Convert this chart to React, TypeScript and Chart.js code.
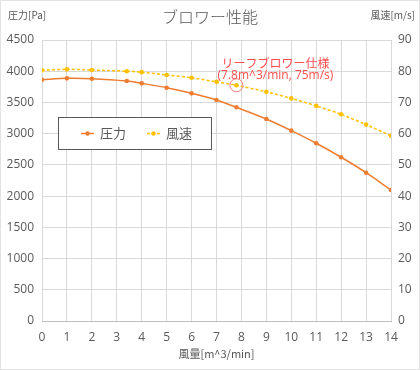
import React, { useEffect, useRef } from "react";
import { Chart, registerables } from "chart.js";

Chart.register(...registerables);

const flow = [0, 1, 2, 3.4, 4, 5, 6, 7, 7.8, 9, 10, 11, 12, 13, 14];
const pressure = [3864, 3886, 3880, 3843, 3806, 3736, 3646, 3539, 3422, 3235, 3048, 2846, 2622, 2375, 2098];
const speed = [80.3, 80.6, 80.4, 80.0, 79.7, 78.8, 77.9, 76.6, 75.5, 73.4, 71.3, 68.9, 66.2, 62.9, 59.3];

const seriesNames = ["圧力", "風速"];
const chartTitle = "ブロワー性能";
const xTitle = "風量[m^3/min]";
const yLeftTitle = "圧力[Pa]";
const yRightTitle = "風速[m/s]";
const noteLines = ["リーフブロワー仕様", "(7.8m^3/min, 75m/s)"];
const notePoint = { x: 7.8, y: 75.5 };

const FONT = "'Open Sans', 'Noto Sans CJK JP', sans-serif";
const JP = "'Noto Sans CJK JP', sans-serif";
const TEXT = "#595959";
const GRID = "#d9d9d9";
const ORANGE = "#ED7D31";
const GOLD = "#FFC000";

const plain = (v: any) => String(v);

const decorPlugin = {
  id: "decor",
  beforeDraw(chart: any) {
    const ctx = chart.ctx;
    ctx.save();
    ctx.fillStyle = "#ffffff";
    ctx.fillRect(0, 0, chart.width, chart.height);
    ctx.strokeStyle = "#e3e3e3";
    ctx.lineWidth = 1;
    ctx.strokeRect(0.5, 0.5, chart.width - 1, chart.height - 1);
    ctx.restore();
  },
  afterDraw(chart: any) {
    const ctx = chart.ctx;
    const area = chart.chartArea;
    ctx.save();
    ctx.fillStyle = TEXT;
    ctx.textBaseline = "middle";
    // title
    ctx.font = `300 16px ${JP}`;
    ctx.textAlign = "center";
    ctx.fillText(chartTitle, 210, 17);
    // axis unit labels
    ctx.font = `10px ${JP}`;
    ctx.textAlign = "left";
    ctx.fillText(yLeftTitle, 8, 15);
    ctx.textAlign = "right";
    ctx.fillText(yRightTitle, 415, 15);
    ctx.textAlign = "center";
    ctx.font = `11px ${JP}`;
    ctx.fillText(xTitle, (area.left + area.right) / 2, 354);

    // annotation
    const px = chart.scales.x.getPixelForValue(notePoint.x);
    const py = chart.scales.y1.getPixelForValue(notePoint.y);
    ctx.strokeStyle = "#ff8080";
    ctx.lineWidth = 1;
    ctx.beginPath();
    ctx.arc(px, py, 6.5, 0, Math.PI * 2);
    ctx.stroke();
    ctx.fillStyle = "#ff4d4d";
    ctx.font = `12px ${JP}`;
    ctx.textAlign = "center";
    ctx.fillText(noteLines[0], px + 39, py - 22);
    ctx.font = `12px ${FONT}`;
    ctx.fillText(noteLines[1], px + 39, py - 10);

    // legend box
    const lx = 58, ly = 117, lw = 153, lh = 32;
    ctx.fillStyle = "#ffffff";
    ctx.fillRect(lx, ly, lw, lh);
    ctx.strokeStyle = "#595959";
    ctx.lineWidth = 1;
    ctx.strokeRect(lx + 0.5, ly + 0.5, lw, lh);
    const cy = ly + lh / 2 + 0.5;
    const items = [
      { x: 81, color: ORANGE, dash: [] as number[], label: seriesNames[0] },
      { x: 147, color: GOLD, dash: [3, 2], label: seriesNames[1] },
    ];
    items.forEach((it) => {
      ctx.strokeStyle = it.color;
      ctx.lineWidth = 1.5;
      ctx.setLineDash(it.dash);
      ctx.beginPath();
      ctx.moveTo(it.x, cy);
      ctx.lineTo(it.x + 13, cy);
      ctx.stroke();
      ctx.setLineDash([]);
      ctx.fillStyle = it.color;
      ctx.beginPath();
      ctx.arc(it.x + 6.5, cy, 2.3, 0, Math.PI * 2);
      ctx.fill();
      ctx.fillStyle = TEXT;
      ctx.font = `13px ${JP}`;
      ctx.textAlign = "left";
      ctx.fillText(it.label, it.x + 19, cy);
    });
    ctx.restore();
  },
};

export default function App() {
  const ref = useRef<HTMLCanvasElement | null>(null);
  useEffect(() => {
    if (!ref.current) return;
    const chart = new Chart(ref.current, {
      type: "line",
      data: {
        datasets: [
          {
            label: seriesNames[0],
            data: flow.map((x, i) => ({ x, y: pressure[i] })),
            borderColor: ORANGE,
            backgroundColor: ORANGE,
            borderWidth: 1.5,
            pointRadius: 2.3,
            pointBorderWidth: 0,
            yAxisID: "y",
            tension: 0.3,
          },
          {
            label: seriesNames[1],
            data: flow.map((x, i) => ({ x, y: speed[i] })),
            borderColor: GOLD,
            backgroundColor: GOLD,
            borderWidth: 1.5,
            borderDash: [3, 2],
            pointRadius: 2.3,
            pointBorderWidth: 0,
            yAxisID: "y1",
            tension: 0.3,
          },
        ],
      },
      options: {
        animation: false,
        responsive: false,
        layout: { padding: { top: 40, bottom: 0, left: 0, right: 0 } },
        plugins: {
          legend: { display: false },
          title: { display: false },
          tooltip: { enabled: false },
        },
        scales: {
          x: {
            type: "linear",
            min: 0,
            max: 14,
            ticks: { stepSize: 1, color: TEXT, font: { family: FONT, size: 12 }, padding: 9, callback: plain },
            grid: { color: GRID, drawTicks: false },
            border: { color: "#bfbfbf" },
            afterFit: (s: any) => { s.height = 49; },
          },
          y: {
            position: "left",
            min: 0,
            max: 4500,
            ticks: { stepSize: 500, color: TEXT, font: { family: FONT, size: 12 }, padding: 8, callback: plain },
            grid: { color: GRID, drawTicks: false },
            border: { display: false },
            afterFit: (s: any) => { s.width = 42; },
          },
          y1: {
            position: "right",
            min: 0,
            max: 90,
            ticks: { stepSize: 10, color: TEXT, font: { family: FONT, size: 12 }, padding: 7, callback: plain },
            grid: { drawOnChartArea: false, drawTicks: false },
            border: { display: false },
            afterFit: (s: any) => { s.width = 29; },
          },
        },
      },
      plugins: [decorPlugin],
    } as any);
    return () => chart.destroy();
  }, []);
  return (
    <div style={{ position: "absolute", left: 0, top: 0, width: 420, height: 370 }}>
      <canvas ref={ref} width={420} height={370} />
    </div>
  );
}
